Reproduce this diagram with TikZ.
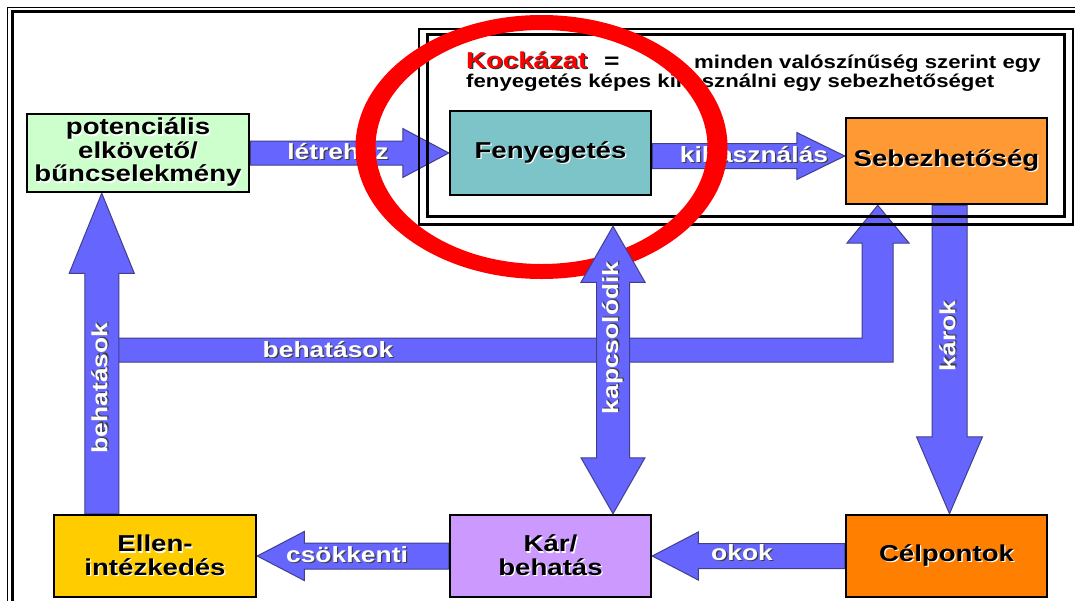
\documentclass[tikz,border=0pt]{standalone}
\usepackage{fontspec}
\setmainfont{Liberation Sans}
\newfontfamily\dglabfont[FakeStretch=1.2]{Liberation Sans}
\usetikzlibrary{calc}

\definecolor{potfill}{HTML}{CCFFCC}
\definecolor{fenfill}{RGB}{125,196,200}
\definecolor{sebfill}{HTML}{FF9933}
\definecolor{celfill}{HTML}{FF8000}
\definecolor{karfill}{HTML}{CC99FF}
\definecolor{ellfill}{HTML}{FFCC00}
\definecolor{arrowblue}{HTML}{6666FF}
\definecolor{arrowedge}{HTML}{3F3F8C}
\definecolor{ringred}{HTML}{FF0000}

\pgfdeclarelayer{paperlayer}
\pgfdeclarelayer{arrowlayer}
\pgfdeclarelayer{framelayer}
\pgfdeclarelayer{ringlayer}
\pgfdeclarelayer{toplayer}
\pgfsetlayers{paperlayer,arrowlayer,framelayer,main,ringlayer,toplayer}

% text with an offset shadow behind it
\newcommand\shadowed[2]{\leavevmode\rlap{\kern1.3pt\raisebox{-1.3pt}{\textcolor{#1}{#2}}}#2}
\newcommand\dgboxfont{\dglabfont\bfseries\fontsize{23}{23.5}\selectfont}
\newcommand\dgarrfont{\dglabfont\bfseries\fontsize{22}{24}\selectfont}
\newcommand\dgdeffont{\dglabfont\bfseries\fontsize{18.5}{20}\selectfont}

% straight block arrow: #1 tail, #2 tip, #3 half shaft, #4 half head, #5 head length
\newcommand\fatarrow[5]{%
  \coordinate (fa-h) at ($(#2)!#5!(#1)$);
  \filldraw[arrowbody] ($(#1)!#3!90:(#2)$) -- ($(fa-h)!#3!-90:(#1)$)
    -- ($(fa-h)!#4!-90:(#1)$) -- (#2) -- ($(fa-h)!#4!90:(#1)$)
    -- ($(fa-h)!#3!90:(#1)$) -- ($(#1)!#3!-90:(#2)$) -- cycle;}
% block arrow with a head at both ends
\newcommand\fatdouble[5]{%
  \coordinate (fd-a) at ($(#1)!#5!(#2)$);
  \coordinate (fd-b) at ($(#2)!#5!(#1)$);
  \filldraw[arrowbody] (#1) -- ($(fd-a)!#4!90:(#2)$) -- ($(fd-a)!#3!90:(#2)$)
    -- ($(fd-b)!#3!-90:(#1)$) -- ($(fd-b)!#4!-90:(#1)$) -- (#2)
    -- ($(fd-b)!#4!90:(#1)$) -- ($(fd-b)!#3!90:(#1)$)
    -- ($(fd-a)!#3!-90:(#2)$) -- ($(fd-a)!#4!-90:(#2)$) -- cycle;}

\tikzset{
  box/.style={draw=black, line width=2.5pt, inner sep=0pt, align=center,
    font=\dgboxfont, text=black},
  arrowbody/.style={fill=arrowblue, draw=arrowedge, line width=1pt},
  lbl/.style={inner sep=0pt, font=\dgarrfont, text=white},
  deftext/.style={inner sep=0pt, font=\dgdeffont, text=black},
}

\begin{document}
\begin{tikzpicture}[x=1pt, y=-1pt]
\useasboundingbox (0,0) rectangle (1075,600);
\begin{pgfonlayer}{paperlayer}
  \fill[white] (0,0) rectangle (1075,600);
\end{pgfonlayer}

% page frame
\begin{scope}
  \clip (0,0) rectangle (1075,600);
  \draw[line width=1.5pt] (7.5,7.5) rectangle (1095,625);
  \draw[line width=3.5pt] (12.5,11.5) rectangle (1090,620);
\end{scope}

% boxes
\node[box, fill=potfill, minimum width=222pt, minimum height=78pt] (pot) at (138,153)
  {\shadowed{white}{potenciális}\\\shadowed{white}{elkövető/}\\\shadowed{white}{bűncselekmény}};
\node[box, fill=fenfill, minimum width=201pt, minimum height=84pt] (fen) at (550.5,153)
  {\shadowed{white}{Fenyegetés}};
\node[box, fill=sebfill, minimum width=201pt, minimum height=86pt] (seb) at (946.5,161)
  {\shadowed{white}{Sebezhetőség}};
\node[box, fill=ellfill, minimum width=202pt, minimum height=82pt] (ell) at (155,556)
  {\shadowed{white}{Ellen-}\\\shadowed{white}{intézkedés}};
\node[box, fill=karfill, minimum width=201pt, minimum height=82pt] (kar) at (550.5,556)
  {\shadowed{white}{Kár/}\\\shadowed{white}{behatás}};
\node[box, fill=celfill, minimum width=201pt, minimum height=82pt] (cel) at (946.5,556)
  {\shadowed{white}{Célpontok}};

% arrow end points
\coordinate (kx1) at ($(fen.east)+(0,3)$);
\coordinate (kx2) at (kx1 -| seb.west);
\coordinate (kr1) at ($(seb.south)+(3,0)$);
\coordinate (kr2) at (kr1 |- cel.north);
\coordinate (kp1) at ($(kar.north)+(62.5,0)$);
\coordinate (kp2) at ($(kp1 |- fen.south)+(0,30)$);
\coordinate (lv1) at ($(ell.north west)+(49,0)$);
\coordinate (lv2) at (lv1 |- pot.south);
\coordinate (rbtip) at ($(seb.south west)+(33,0)$);

\begin{pgfonlayer}{arrowlayer}
  % impacts running from the counter-measures over to the vulnerability
  \filldraw[arrowbody] (118,338) -- (862,338) -- (862,243) -- (847,243) -- (rbtip)
    -- (909,243) -- (893,243) -- (893,362) -- (118,362) -- cycle;
  \fatarrow{lv1}{lv2}{17pt}{32.5pt}{80pt}
  \fatarrow{pot.east}{fen.west}{12pt}{24.5pt}{46pt}
  \fatarrow{kx1}{kx2}{12.5pt}{23.5pt}{48pt}
  \fatarrow{kr1}{kr2}{17.5pt}{33pt}{77pt}
  \fatarrow{cel.west}{kar.east}{12.5pt}{24pt}{46pt}
  \fatarrow{kar.west}{ell.east}{13pt}{24.5pt}{47pt}
\end{pgfonlayer}

% risk frame
\begin{pgfonlayer}{framelayer}
  \draw[line width=2.5pt] (419,29) rectangle (1073,224.5);
  \draw[line width=3pt] (427.5,34) rectangle (1064.5,216.5);
\end{pgfonlayer}

% risk definition
\node[inner sep=0pt, anchor=base west, font=\dglabfont\bfseries\fontsize{23}{24}\selectfont, text=ringred]
  (kock) at (466,68) {\shadowed{black!80}{Kockázat}};
\node[inner sep=0pt, anchor=base west, font=\dglabfont\bfseries\fontsize{22}{24}\selectfont]
  (eq) at (604,68) {=};
\node[deftext, anchor=base east] (def1) at (1041,68) {minden valószínűség szerint egy};
\node[deftext, anchor=base west] (def2) at (466,87) {fenyegetés képes kihasználni egy sebezhetőséget};

% arrow labels
\node[lbl] (l-letre) at (338,152) {\shadowed{black!75}{létrehoz}};
\node[lbl] (l-kihasz) at (754,155) {\shadowed{black!75}{kihasználás}};
\node[lbl] (l-behh) at (328,350) {\shadowed{black!75}{behatások}};
\node[lbl, rotate=90] (l-behv) at (100,388) {\shadowed{black!75}{behatások}};
\node[lbl, rotate=90] (l-karok) at (948,336) {\shadowed{black!75}{károk}};
\node[lbl] (l-okok) at (742,553) {\shadowed{black!75}{okok}};
\node[lbl] (l-csokk) at (347,555) {\shadowed{black!75}{csökkenti}};

% red ring round the threat
\begin{pgfonlayer}{ringlayer}
  \fill[ringred, even odd rule] (541.5,147) ellipse [x radius=186, y radius=132]
    (541.5,147) ellipse [x radius=166, y radius=117];
\end{pgfonlayer}

% threat <-> damage link, above the ring
\begin{pgfonlayer}{toplayer}
  \fatdouble{kp2}{kp1}{16.5pt}{32pt}{56pt}
  \node[lbl, rotate=90] (l-kapcs) at (613,338) {\shadowed{black!75}{kapcsolódik}};
\end{pgfonlayer}
\end{tikzpicture}
\end{document}
